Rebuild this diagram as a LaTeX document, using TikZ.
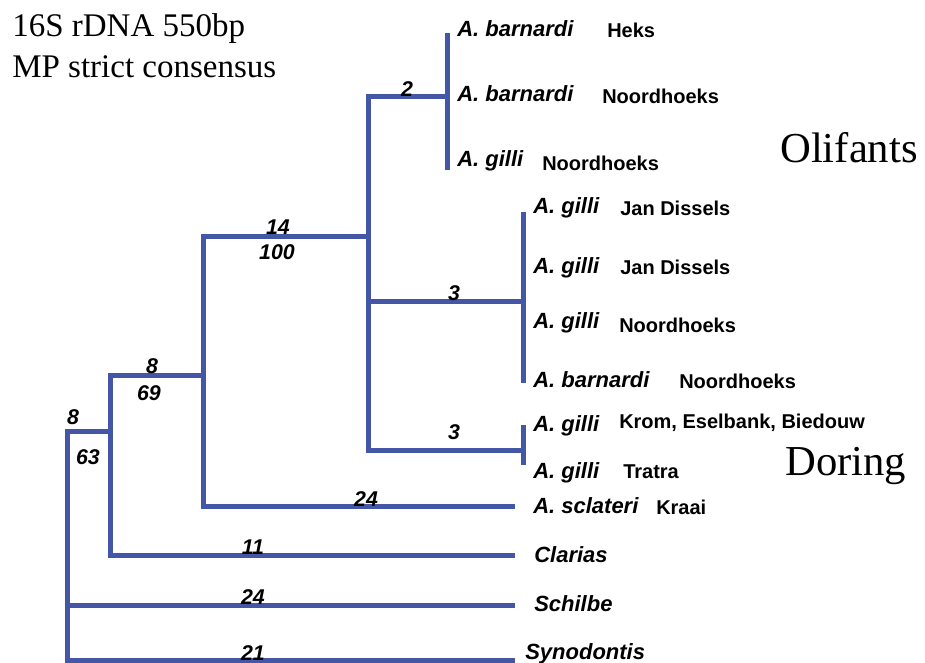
\documentclass[tikz,border=0pt]{standalone}
\usepackage{fontspec}
\setmainfont{Liberation Serif}
\setsansfont{Liberation Sans}
\definecolor{treeblue}{RGB}{68,86,166}

\begin{document}
\begin{tikzpicture}[x=0.75pt,y=-0.75pt,
  branch/.style={draw=treeblue,line width=3.75pt},
  taxon/.style={anchor=base west,inner sep=0pt,font=\sffamily\bfseries\itshape\fontsize{16.5}{18}\selectfont},
  site/.style={anchor=base west,inner sep=0pt,font=\sffamily\bfseries\fontsize{15}{18}\selectfont},
  steps/.style={anchor=base,inner sep=0pt,font=\sffamily\bfseries\itshape\fontsize{16}{18}\selectfont},
  heading/.style={anchor=base west,inner sep=0pt,font=\fontsize{24.75}{28}\selectfont},
  region/.style={anchor=base west,inner sep=0pt,font=\fontsize{32}{36}\selectfont}]
\useasboundingbox (0,0) rectangle (925,663);
\coordinate (nR) at (67,545);
\coordinate (nA) at (110,431);
\coordinate (nB) at (203,375);
\coordinate (nC) at (368,237);
\coordinate (nD) at (447,97);
\coordinate (nE) at (523,301);
\coordinate (nF) at (523,450);
\coordinate (tD1) at (447,33);
\coordinate (tD3) at (447,170);
\coordinate (tE1) at (523,212);
\coordinate (tE4) at (523,383);
\coordinate (tF1) at (523,425);
\coordinate (tF2) at (523,465);
\coordinate (tScl) at (515,506);
\coordinate (tCla) at (515,555);
\coordinate (tSch) at (515,605);
\coordinate (tSyn) at (515,660);
\draw[branch] (nR) |- (nA);
\draw[branch] (nR) |- (tSch);
\draw[branch] (nR) |- (tSyn);
\draw[branch] (nA) |- (nB);
\draw[branch] (nA) |- (tCla);
\draw[branch] (nB) |- (nC);
\draw[branch] (nB) |- (tScl);
\draw[branch] (nC) |- (nD);
\draw[branch] (nC) |- (nE);
\draw[branch] (nC) |- (nF);
\draw[branch] (tD1) -- (tD3);
\draw[branch] (tE1) -- (tE4);
\draw[branch] (tF1) -- (tF2);
\node[steps] (sD) at (407,97) {2};
\node[steps] (sC) at (278,235) {14};
\node[steps] (bC) at (277,259) {100};
\node[steps] (sB) at (152,373) {8};
\node[steps] (bB) at (149,400) {69};
\node[steps] (sA) at (73,424) {8};
\node[steps] (bA) at (88,464) {63};
\node[steps] (sE) at (454,300) {3};
\node[steps] (sF) at (454,439) {3};
\node[steps] (sScl) at (366,506) {24};
\node[steps] (sCla) at (253,554) {11};
\node[steps] (sSch) at (253,604) {24};
\node[steps] (sSyn) at (253,660) {21};
\node[taxon] (l1) at (457,37) {A. barnardi};
\node[site] (p1) at (607,38) {Heks};
\node[taxon] (l2) at (457,102) {A. barnardi};
\node[site] (p2) at (602,104) {Noordhoeks};
\node[taxon] (l3) at (457,167) {A. gilli};
\node[site] (p3) at (542,171) {Noordhoeks};
\node[taxon] (l4) at (533,214) {A. gilli};
\node[site] (p4) at (620,216) {Jan Dissels};
\node[taxon] (l5) at (533,273) {A. gilli};
\node[site] (p5) at (620,274) {Jan Dissels};
\node[taxon] (l6) at (533,328) {A. gilli};
\node[site] (p6) at (619,332) {Noordhoeks};
\node[taxon] (l7) at (533,387) {A. barnardi};
\node[site] (p7) at (679,388) {Noordhoeks};
\node[taxon] (l8) at (533,431) {A. gilli};
\node[site] (p8) at (619,428) {Krom, Eselbank, Biedouw};
\node[taxon] (l9) at (533,478) {A. gilli};
\node[site] (p9) at (623,478) {Tratra};
\node[taxon] (l10) at (533,513) {A. sclateri};
\node[site] (p10) at (656,514) {Kraai};
\node[taxon] (l11) at (534,562) {Clarias};
\node[taxon] (l12) at (534,611) {Schilbe};
\node[taxon] (l13) at (525,659) {Synodontis};
\node[heading] (title1) at (12,37) {16S rDNA 550bp};
\node[heading] (title2) at (12,78) {MP strict consensus};
\node[region] (olif) at (780,163) {Olifants};
\node[region] (dor) at (785,475) {Doring};
\end{tikzpicture}
\end{document}
